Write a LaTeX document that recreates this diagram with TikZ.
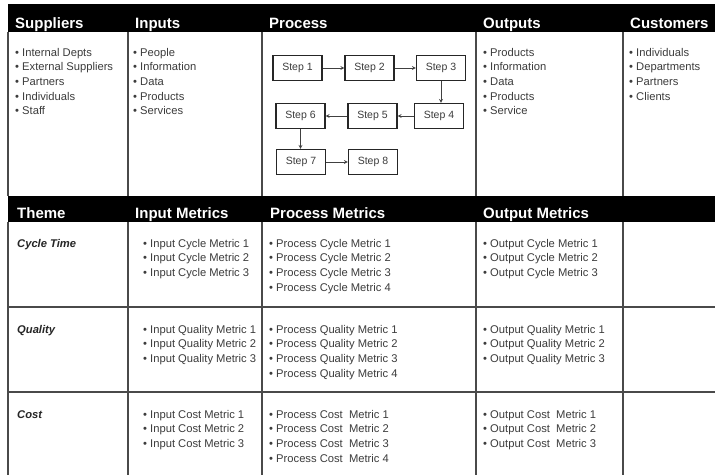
\documentclass[tikz,border=0pt]{standalone}
\usepackage{fontspec}
\setmainfont{Liberation Sans}
\definecolor{gridgray}{HTML}{4A4A4A}
\definecolor{txtgray}{HTML}{3C3C3C}
\newcommand{\bul}{\textbullet\ }
\newcommand{\lines}[1]{\begin{tabular}[t]{@{}l@{}}#1\end{tabular}}
\tikzset{
  headtext/.style={anchor=base west, text=white, inner sep=0pt, font=\bfseries\fontsize{15}{18}\selectfont},
  itemlist/.style={anchor=base west, text=txtgray, inner sep=0pt, font=\fontsize{11.2}{14.7}\selectfont},
  themetext/.style={anchor=base west, text=black!85, inner sep=0pt, font=\bfseries\itshape\fontsize{11.2}{14}\selectfont},
  stepbox/.style={draw=black!85, line width=1.1pt, minimum width=49pt, minimum height=25pt, inner sep=0pt, text=txtgray, font=\fontsize{10.5}{12}\selectfont},
  flow/.style={->, draw=black!75, line width=0.8pt},
  gridline/.style={draw=gridgray, line width=1.4pt}
}
\begin{document}
\begin{tikzpicture}[x=1pt,y=-1pt,>=stealth]
\useasboundingbox[fill=white] (0,0) rectangle (715,475);
% black header bars
\fill[black] (8,4) rectangle (715,32);
\fill[black] (8,196) rectangle (715,222);
% grid
\draw[gridline] (8,32) -- (8,196);
\draw[gridline] (8,222) -- (8,475);
\foreach \xc in {128,262,476,623}{
  \draw[gridline] (\xc,32) -- (\xc,196);
  \draw[gridline] (\xc,222) -- (\xc,475);
}
\draw[gridline] (8,307) -- (715,307);
\draw[gridline] (8,392) -- (715,392);
% top headers
\node[headtext] (hsup) at (15,28) {Suppliers};
\node[headtext] (hinp) at (135,28) {Inputs};
\node[headtext] (hpro) at (269,28) {Process};
\node[headtext] (hout) at (483,28) {Outputs};
\node[headtext] (hcus) at (630,28) {Customers};
% top lists
\node[itemlist] (lsup) at (15,56) {\lines{\bul Internal Depts\\\bul External Suppliers\\\bul Partners\\\bul Individuals\\\bul Staff}};
\node[itemlist] (linp) at (133,56) {\lines{\bul People\\\bul Information\\\bul Data\\\bul Products\\\bul Services}};
\node[itemlist] (lout) at (483,56) {\lines{\bul Products\\\bul Information\\\bul Data\\\bul Products\\\bul Service}};
\node[itemlist] (lcus) at (629,56) {\lines{\bul Individuals\\\bul Departments\\\bul Partners\\\bul Clients}};
% process steps
\node[stepbox] (s1) at (297.5,68) {Step 1};
\node[stepbox] (s2) at (369.5,68) {Step 2};
\node[stepbox] (s3) at (441,68) {Step 3};
\node[stepbox] (s4) at (439,116) {Step 4};
\node[stepbox] (s5) at (372.5,116) {Step 5};
\node[stepbox] (s6) at (300.5,116) {Step 6};
\node[stepbox] (s7) at (301,162) {Step 7};
\node[stepbox] (s8) at (373,162) {Step 8};
\draw[flow] (s1) -- (s2);
\draw[flow] (s2) -- (s3);
\draw[flow] (s3.south) -- (s3.south |- s4.north);
\draw[flow] (s4) -- (s5);
\draw[flow] (s5) -- (s6);
\draw[flow] (s6.south) -- (s6.south |- s7.north);
\draw[flow] (s7) -- (s8);
% metric headers
\node[headtext] (htheme) at (17,218) {Theme};
\node[headtext] (himet) at (135,218) {Input Metrics};
\node[headtext] (hpmet) at (270,218) {Process Metrics};
\node[headtext] (homet) at (483,218) {Output Metrics};
% cycle time row
\node[themetext] (tcyc) at (17,247) {Cycle Time};
\node[itemlist] (icyc) at (143,247) {\lines{\bul Input Cycle Metric 1\\\bul Input Cycle Metric 2\\\bul Input Cycle Metric 3}};
\node[itemlist] (pcyc) at (269,247) {\lines{\bul Process Cycle Metric 1\\\bul Process Cycle Metric 2\\\bul Process Cycle Metric 3\\\bul Process Cycle Metric 4}};
\node[itemlist] (ocyc) at (483,247) {\lines{\bul Output Cycle Metric 1\\\bul Output Cycle Metric 2\\\bul Output Cycle Metric 3}};
% quality row
\node[themetext] (tqua) at (17,333) {Quality};
\node[itemlist] (iqua) at (143,333) {\lines{\bul Input Quality Metric 1\\\bul Input Quality Metric 2\\\bul Input Quality Metric 3}};
\node[itemlist] (pqua) at (269,333) {\lines{\bul Process Quality Metric 1\\\bul Process Quality Metric 2\\\bul Process Quality Metric 3\\\bul Process Quality Metric 4}};
\node[itemlist] (oqua) at (483,333) {\lines{\bul Output Quality Metric 1\\\bul Output Quality Metric 2\\\bul Output Quality Metric 3}};
% cost row
\node[themetext] (tcos) at (17,418) {Cost};
\node[itemlist] (icos) at (143,418) {\lines{\bul Input Cost Metric 1\\\bul Input Cost Metric 2\\\bul Input Cost Metric 3}};
\node[itemlist] (pcos) at (269,418) {\lines{\bul Process Cost\ \ Metric 1\\\bul Process Cost\ \ Metric 2\\\bul Process Cost\ \ Metric 3\\\bul Process Cost\ \ Metric 4}};
\node[itemlist] (ocos) at (483,418) {\lines{\bul Output Cost\ \ Metric 1\\\bul Output Cost\ \ Metric 2\\\bul Output Cost\ \ Metric 3}};
\end{tikzpicture}
\end{document}
